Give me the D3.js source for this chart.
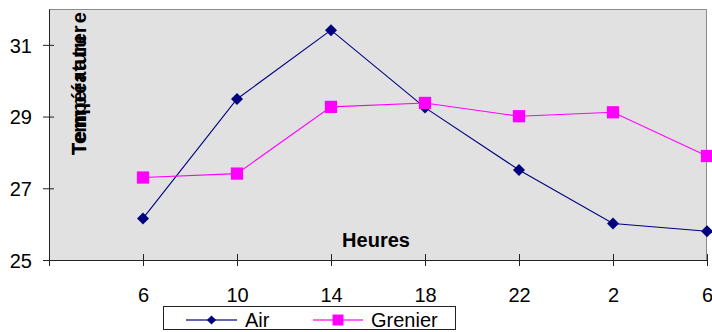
<!DOCTYPE html>
<html lang="fr">
<head>
    <meta charset="UTF-8">
    <title>Température - Air / Grenier</title>
    <script src="https://cdnjs.cloudflare.com/ajax/libs/d3/7.8.5/d3.min.js"></script>
    <style>
        body { margin: 0; background: #fff; }
        svg { display: block; font-family: "Liberation Sans", Arial, sans-serif; }
        .axis path, .axis line { stroke: #222; }
        .axis text { font-size: 20px; fill: #000; }
    </style>
</head>
<body>
    <div id="chart"></div>
    <script>
        // Data
        const hours = ["6", "10", "14", "18", "22", "2", "6"];
        const air = [26.16, 29.49, 31.41, 29.25, 27.51, 26.02, 25.80];
        const grenier = [27.30, 27.41, 29.27, 29.38, 29.01, 29.12, 27.90];
        const yTicks = [25, 27, 29, 31];

        const width = 712;
        const height = 332;
        const margin = { top: 9, right: 5, bottom: 72, left: 49 };

        const svg = d3.select("#chart").append("svg")
            .attr("width", width)
            .attr("height", height);

        // Category axis: an empty slot at the start, then the hours
        const x = d3.scalePoint()
            .domain(d3.range(hours.length + 1))
            .range([margin.left, width - margin.right]);

        const y = d3.scaleLinear()
            .domain([25, 32])
            .range([height - margin.bottom, margin.top]);

        // Plot area background + grey frame on top/right
        svg.append("rect")
            .attr("x", margin.left)
            .attr("y", margin.top)
            .attr("width", width - margin.right - margin.left)
            .attr("height", height - margin.bottom - margin.top)
            .attr("fill", "#e1e1e1");

        svg.append("path")
            .attr("d", `M${margin.left},${margin.top + 0.5}H${width - margin.right - 0.5}V${height - margin.bottom}`)
            .attr("fill", "none")
            .attr("stroke", "#8a8a8a");

        // Axes
        const xAxis = svg.append("g")
            .attr("class", "axis")
            .attr("transform", `translate(0,${height - margin.bottom})`)
            .call(d3.axisBottom(x)
                .tickValues(d3.range(hours.length + 1))
                .tickFormat(i => i === 0 ? "" : hours[i - 1])
                .tickSizeInner(6)
                .tickSizeOuter(0)
                .tickPadding(22));
        xAxis.selectAll(".tick line").attr("y1", -6);

        const yAxis = svg.append("g")
            .attr("class", "axis")
            .attr("transform", `translate(${margin.left},0)`)
            .call(d3.axisLeft(y)
                .tickValues(yTicks)
                .tickFormat(d3.format("d"))
                .tickSizeInner(6)
                .tickSizeOuter(0)
                .tickPadding(11));
        yAxis.selectAll(".tick line").attr("x1", 5);
        yAxis.selectAll(".tick text").attr("dy", "0.36em");

        // Axis titles
        svg.append("text")
            .attr("x", 376)
            .attr("y", 247)
            .attr("text-anchor", "middle")
            .attr("font-size", 20)
            .attr("font-weight", "bold")
            .text("Heures");

        // the vertical title appears twice, slightly offset, in the original
        const titleG = svg.append("g")
            .attr("transform", "translate(86,155) rotate(-90)");
        titleG.append("text")
            .attr("font-size", 20)
            .attr("font-weight", "bold")
            .attr("textLength", 122)
            .attr("lengthAdjust", "spacing")
            .text("Température");
        titleG.append("text")
            .attr("font-size", 20)
            .attr("font-weight", "bold")
            .attr("textLength", 143)
            .attr("lengthAdjust", "spacing")
            .text("Température");

        // Series
        const diamond = d3.symbolSquare;
        const series = [
            { name: "Air", values: air, color: "#000080", shape: diamond, rot: 45, size: 72, legendSize: 42 },
            { name: "Grenier", values: grenier, color: "#ff00ff", shape: d3.symbolSquare, rot: 0, size: 150, legendSize: 120 }
        ];

        const line = d3.line()
            .x((d, i) => x(i + 1))
            .y(d => y(d));

        series.forEach(s => {
            svg.append("path")
                .datum(s.values)
                .attr("fill", "none")
                .attr("stroke", s.color)
                .attr("stroke-width", 1.1)
                .attr("d", line);

            svg.selectAll(null)
                .data(s.values)
                .enter().append("path")
                .attr("transform", (d, i) => `translate(${x(i + 1)},${y(d)}) rotate(${s.rot})`)
                .attr("d", d3.symbol().type(s.shape).size(s.size))
                .attr("fill", s.color);
        });

        // Legend
        const legend = svg.append("g");
        legend.append("rect")
            .attr("x", 163.5)
            .attr("y", 306.5)
            .attr("width", 292)
            .attr("height", 23)
            .attr("fill", "#fff")
            .attr("stroke", "#222");

        const legendItems = [
            { x0: 186, x1: 237, tx: 245 },
            { x0: 313, x1: 363, tx: 371 }
        ];
        series.forEach((s, i) => {
            const it = legendItems[i];
            legend.append("line")
                .attr("x1", it.x0).attr("x2", it.x1)
                .attr("y1", 320).attr("y2", 320)
                .attr("stroke", s.color)
                .attr("stroke-opacity", 0.6)
                .attr("stroke-width", 2);
            legend.append("path")
                .attr("transform", `translate(${(it.x0 + it.x1) / 2},320) rotate(${s.rot})`)
                .attr("d", d3.symbol().type(s.shape).size(s.legendSize))
                .attr("fill", s.color);
            legend.append("text")
                .attr("x", it.tx)
                .attr("y", 327)
                .attr("font-size", 20)
                .text(s.name);
        });
    </script>
</body>
</html>
